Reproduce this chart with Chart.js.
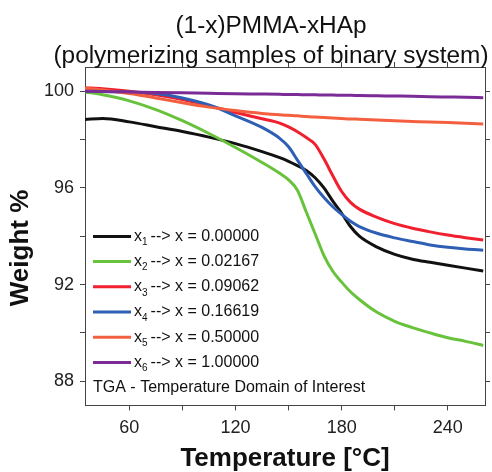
<!DOCTYPE html>
<html>
<head>
<meta charset="utf-8">
<script src="https://cdn.jsdelivr.net/npm/chart.js@4.4.1/dist/chart.umd.min.js"></script>
<style>
  html, body { margin: 0; padding: 0; background: #fff; }
  #wrap { width: 492px; height: 472px; }
</style>
</head>
<body>
<div id="wrap"><canvas id="tgaChart" width="492" height="472"></canvas></div>
<script>
// temperature points (°C) shared by all curves
var temps = [35, 45, 60, 75, 90, 105, 120, 135, 145, 150, 155, 160, 165, 170, 175, 180, 185, 190, 200, 210, 220, 230, 240, 250, 260];

var x1 = [98.83, 98.87, 98.73, 98.53, 98.33, 98.1, 97.83, 97.5, 97.25, 97.1, 96.92, 96.72, 96.42, 96.0, 95.45, 94.95, 94.4, 94.0, 93.55, 93.25, 93.05, 92.92, 92.8, 92.68, 92.56];
var x2 = [99.97, 99.85, 99.6, 99.24, 98.78, 98.25, 97.67, 97.05, 96.6, 96.33, 95.9, 95.0, 94.1, 93.2, 92.55, 92.1, 91.7, 91.38, 90.85, 90.48, 90.22, 90.0, 89.8, 89.65, 89.48];
var x3 = [100.14, 100.1, 100.0, 99.85, 99.65, 99.4, 99.12, 98.86, 98.68, 98.52, 98.32, 98.08, 97.8, 97.2, 96.5, 95.85, 95.4, 95.12, 94.78, 94.52, 94.33, 94.18, 94.05, 93.94, 93.84];
var x4 = [100.0, 99.99, 99.96, 99.9, 99.72, 99.43, 98.98, 98.5, 98.05, 97.7, 97.15, 96.6, 96.05, 95.6, 95.22, 94.9, 94.62, 94.4, 94.12, 93.93, 93.78, 93.64, 93.54, 93.47, 93.42];
var x5 = [100.12, 100.05, 99.9, 99.72, 99.52, 99.34, 99.2, 99.08, 99.02, 99.0, 98.98, 98.95, 98.93, 98.91, 98.89, 98.87, 98.85, 98.84, 98.81, 98.78, 98.75, 98.72, 98.7, 98.67, 98.64];
var x6 = [100.0, 99.99, 99.97, 99.95, 99.93, 99.91, 99.89, 99.88, 99.87, 99.86, 99.86, 99.85, 99.85, 99.84, 99.84, 99.83, 99.83, 99.82, 99.81, 99.8, 99.79, 99.77, 99.76, 99.75, 99.73];

var seriesNames = ['1', '2', '3', '4', '5', '6'];
var fractions = ['0.00000', '0.02167', '0.09062', '0.16619', '0.50000', '1.00000'];
var colors = ['#111111', '#68c23c', '#f0202e', '#2f5fb5', '#f4603f', '#7b2b96'];

var xTicks = [60, 90, 120, 150, 180, 210, 240];
var yTicks = [88, 90, 92, 94, 96, 98, 100];

function toPoints(vals) {
    return temps.map(function (t, i) { return { x: t, y: vals[i] }; });
}

var allSeries = [x1, x2, x3, x4, x5, x6];
var datasets = allSeries.map(function (vals, i) {
    return {
        label: 'x' + seriesNames[i] + ' --> x = ' + fractions[i],
        data: toPoints(vals),
        borderColor: colors[i],
        backgroundColor: colors[i],
        borderWidth: 3,
        pointRadius: 0,
        cubicInterpolationMode: 'monotone',
        fill: false,
        order: 6 - i
    };
});

var fontName = '"Liberation Sans", Arial, sans-serif';

// title, y axis title and in-plot legend
var decorPlugin = {
    id: 'decor',
    afterDraw: function (chart) {
        var c = chart.ctx;
        var a = chart.chartArea;
        c.save();
        c.fillStyle = '#111';
        c.textAlign = 'center';
        c.textBaseline = 'middle';
        c.font = '24.4px ' + fontName;
        c.fillText('(1-x)PMMA-xHAp', 271, 26);
        c.fillText('(polymerizing samples of binary system)', 271, 56);

        c.save();
        c.translate(21, 248);
        c.rotate(-Math.PI / 2);
        c.font = 'bold 26px ' + fontName;
        c.fillText('Weight %', 0, 0);
        c.restore();

        c.textAlign = 'left';
        for (var i = 0; i < datasets.length; i++) {
            var y = a.bottom - 169 + i * 25.2;
            c.strokeStyle = colors[i];
            c.lineWidth = 3;
            c.beginPath();
            c.moveTo(a.left + 8, y);
            c.lineTo(a.left + 46, y);
            c.stroke();
            c.fillStyle = '#111';
            c.font = '16px ' + fontName;
            var tx = a.left + 49;
            c.fillText('x', tx, y);
            tx += c.measureText('x').width;
            c.font = '10px ' + fontName;
            c.fillText(seriesNames[i], tx, y + 6);
            tx += c.measureText(seriesNames[i]).width + 3;
            c.font = '16px ' + fontName;
            c.fillText('--> x = ' + fractions[i], tx, y);
        }
        c.font = '16px ' + fontName;
        c.fillText('TGA - Temperature Domain of Interest', a.left + 8, a.bottom - 18);
        c.restore();
    }
};

var tickFont = { family: fontName, size: 18 };

function sideAxis(pos, isX) {
    return {
        type: 'linear',
        position: pos,
        min: isX ? 35 : 87,
        max: isX ? 261 : 101,
        afterBuildTicks: function (s) {
            s.ticks = (isX ? xTicks : yTicks).map(function (v) { return { value: v }; });
        },
        ticks: { display: false },
        grid: { drawOnChartArea: false, drawTicks: true, tickLength: 5, color: '#444' },
        border: { display: true, color: '#444', width: 1 }
    };
}

var ctx = document.getElementById('tgaChart').getContext('2d');
var tgaChart = new Chart(ctx, {
    type: 'line',
    data: { datasets: datasets },
    plugins: [decorPlugin],
    options: {
        responsive: false,
        animation: false,
        layout: { padding: { top: 62, right: 2, left: 38, bottom: 0 } },
        scales: {
            x: {
                type: 'linear',
                min: 35,
                max: 261,
                afterBuildTicks: function (s) {
                    s.ticks = xTicks.map(function (v) { return { value: v }; });
                },
                ticks: {
                    font: tickFont,
                    color: '#222',
                    padding: 7,
                    maxRotation: 0,
                    callback: function (v) { return v % 60 === 0 ? v : ''; }
                },
                grid: { drawOnChartArea: false, drawTicks: true, tickLength: 5, color: '#444' },
                border: { display: true, color: '#444', width: 1 },
                title: { display: true, text: 'Temperature [°C]', font: { family: fontName, size: 26, weight: 'bold', lineHeight: 1.0 }, color: '#111', padding: 0 }
            },
            y: {
                type: 'linear',
                min: 87,
                max: 101,
                afterBuildTicks: function (s) {
                    s.ticks = yTicks.map(function (v) { return { value: v }; });
                },
                ticks: {
                    font: tickFont,
                    color: '#222',
                    padding: 6,
                    callback: function (v) { return v % 4 === 0 ? v : ''; }
                },
                grid: { drawOnChartArea: false, drawTicks: true, tickLength: 5, color: '#444' },
                border: { display: true, color: '#444', width: 1 }
            },
            x2: sideAxis('top', true),
            y2: sideAxis('right', false)
        },
        plugins: {
            legend: { display: false },
            tooltip: { enabled: false }
        }
    }
});
</script>
</body>
</html>
